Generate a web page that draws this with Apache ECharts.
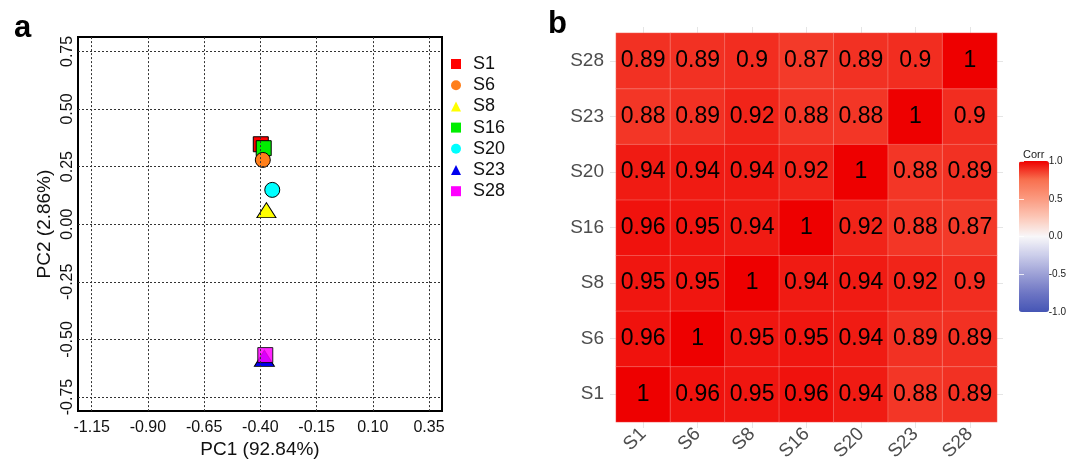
<!DOCTYPE html>
<html>
<head>
<meta charset="utf-8">
<script src="https://cdn.jsdelivr.net/npm/echarts@6/dist/echarts.min.js"></script>
<style>
html,body{margin:0;padding:0;background:#fff;}
#chart{width:1069px;height:464px;}
</style>
</head>
<body>
<div id="chart"></div>
<script>
// ---- PCA data (panel a) ----
const sampleNames = ['S1', 'S6', 'S8', 'S16', 'S20', 'S23', 'S28'];
const pc1Values = [-0.398, -0.389, -0.373, -0.385, -0.347, -0.382, -0.378];
const pc2Values = [0.347, 0.279, 0.061, 0.330, 0.149, -0.582, -0.568];
const pc1Ticks = [-1.15, -0.90, -0.65, -0.40, -0.15, 0.10, 0.35];
const pc2Ticks = [-0.75, -0.50, -0.25, 0.00, 0.25, 0.50, 0.75];

// ---- Correlation data (panel b) ----
const corrCategories = ['S1', 'S6', 'S8', 'S16', 'S20', 'S23', 'S28'];
const corrS1  = [1, 0.96, 0.95, 0.96, 0.94, 0.88, 0.89];
const corrS6  = [0.96, 1, 0.95, 0.95, 0.94, 0.89, 0.89];
const corrS8  = [0.95, 0.95, 1, 0.94, 0.94, 0.92, 0.9];
const corrS16 = [0.96, 0.95, 0.94, 1, 0.92, 0.88, 0.87];
const corrS20 = [0.94, 0.94, 0.94, 0.92, 1, 0.88, 0.89];
const corrS23 = [0.88, 0.89, 0.92, 0.88, 0.88, 1, 0.9];
const corrS28 = [0.89, 0.89, 0.9, 0.87, 0.89, 0.9, 1];

// ---- styles ----
const FONT = '"Liberation Sans", Arial, sans-serif';
const sampleColors = {S1:'#FF0000', S6:'#FF7F1A', S8:'#FFFF00', S16:'#00EE00', S20:'#00FFFF', S23:'#0000EE', S28:'#FF00FF'};
const sampleSymbols = {S1:'rect', S6:'circle', S8:'triangle', S16:'rect', S20:'circle', S23:'triangle', S28:'rect'};
const sampleSizes = {S1:[15,15], S6:[15,15], S8:[19,15], S16:[15,15], S20:[15,15], S23:[20,16], S28:[15,15]};
const sampleOpacity = {S28: 0.85};
const drawOrder = ['S1', 'S16', 'S6', 'S8', 'S20', 'S23', 'S28'];

const corrRows = [corrS1, corrS6, corrS8, corrS16, corrS20, corrS23, corrS28];
const heatData = [];
corrRows.forEach((row, yi) => row.forEach((v, xi) => heatData.push([xi, yi, v])));

const pcaSeries = drawOrder.map(name => {
  const i = sampleNames.indexOf(name);
  return {
    name: name,
    type: 'scatter',
    xAxisIndex: 0, yAxisIndex: 0,
    symbol: sampleSymbols[name],
    symbolSize: sampleSizes[name],
    data: [[pc1Values[i], pc2Values[i]]],
    itemStyle: {color: sampleColors[name], borderColor: '#000', borderWidth: 1, opacity: sampleOpacity[name] || 1},
    emphasis: {disabled: true},
    z: 2
  };
});

const gridLineSeries = {
  name: 'grid',
  type: 'scatter',
  xAxisIndex: 0, yAxisIndex: 0,
  data: [],
  symbolSize: 0,
  silent: true,
  z: 3,
  markLine: {
    silent: true,
    symbol: ['none', 'none'],
    label: {show: false},
    lineStyle: {color: '#333', type: [2, 2], width: 1},
    emphasis: {disabled: true},
    animation: false,
    data: pc1Ticks.map(v => ({xAxis: v})).concat(pc2Ticks.map(v => ({yAxis: v})))
  }
};

const option = {
  animation: false,
  textStyle: {fontFamily: FONT},
  title: [
    {text: 'a', left: 9, top: 8, textStyle: {fontSize: 31, fontWeight: 'bold', color: '#000', fontFamily: FONT}},
    {text: 'b', left: 543, top: 4, textStyle: {fontSize: 31, fontWeight: 'bold', color: '#000', fontFamily: FONT}},
    {text: 'Corr', left: 1018, top: 144, textStyle: {fontSize: 11, fontWeight: 'normal', color: '#1a1a1a', fontFamily: FONT}}
  ],
  grid: [
    {left: 78, top: 37, width: 364, height: 382, show: true, borderColor: '#000', borderWidth: 2, backgroundColor: 'transparent'},
    {left: 616, top: 33, width: 381, height: 389},
    {left: 1019, top: 161, width: 30, height: 151}
  ],
  xAxis: [
    {
      type: 'value', gridIndex: 0, min: -1.211, max: 0.408,
      name: 'PC1 (92.84%)', nameLocation: 'middle', nameGap: 24,
      nameTextStyle: {fontSize: 19, color: '#111', fontFamily: FONT},
      axisLine: {show: false}, splitLine: {show: false},
      axisTick: {show: false},
      axisLabel: {customValues: pc1Ticks, formatter: v => v.toFixed(2), fontSize: 16, color: '#111', margin: 8, fontFamily: FONT}
    },
    {
      type: 'category', gridIndex: 1, data: corrCategories, position: 'bottom',
      axisLine: {show: false}, splitLine: {show: false},
      axisTick: {show: true, alignWithLabel: true, length: 6, lineStyle: {color: '#E5E5E5'}},
      axisLabel: {rotate: 45, fontSize: 19, color: '#4D4D4D', margin: 9, fontFamily: FONT}
    },
    {
      type: 'category', gridIndex: 1, data: corrCategories, position: 'top',
      axisLine: {show: false}, splitLine: {show: false},
      axisTick: {show: true, alignWithLabel: true, length: 6, lineStyle: {color: '#E5E5E5'}},
      axisLabel: {show: false}
    },
    {
      type: 'value', gridIndex: 2, min: 0, max: 1, show: false
    }
  ],
  yAxis: [
    {
      type: 'value', gridIndex: 0, min: -0.811, max: 0.8125,
      name: 'PC2 (2.86%)', nameLocation: 'middle', nameGap: 24, nameRotate: 90,
      nameTextStyle: {fontSize: 19, color: '#111', fontFamily: FONT},
      axisLine: {show: false}, splitLine: {show: false},
      axisTick: {show: false},
      axisLabel: {customValues: pc2Ticks, formatter: v => v.toFixed(2), rotate: 90, fontSize: 16, color: '#111', margin: 2, fontFamily: FONT}
    },
    {
      type: 'category', gridIndex: 1, data: corrCategories, position: 'left',
      axisLine: {show: false}, splitLine: {show: false},
      axisTick: {show: true, alignWithLabel: true, length: 6, lineStyle: {color: '#E5E5E5'}},
      axisLabel: {fontSize: 19, color: '#4D4D4D', margin: 12, fontFamily: FONT}
    },
    {
      type: 'category', gridIndex: 1, data: corrCategories, position: 'right',
      axisLine: {show: false}, splitLine: {show: false},
      axisTick: {show: true, alignWithLabel: true, length: 6, lineStyle: {color: '#E5E5E5'}},
      axisLabel: {show: false}
    },
    {
      type: 'value', gridIndex: 2, min: -1, max: 1, interval: 0.5, position: 'right', z: 10,
      axisLine: {show: false}, splitLine: {show: false},
      axisTick: {show: true, inside: true, length: 5, lineStyle: {color: 'rgba(255,255,255,0.8)'}},
      axisLabel: {fontSize: 10, color: '#1a1a1a', margin: 4, formatter: v => v.toFixed(1), fontFamily: FONT}
    },
    {
      type: 'value', gridIndex: 2, min: -1, max: 1, interval: 0.5, position: 'left', z: 10,
      axisLine: {show: false}, splitLine: {show: false},
      axisTick: {show: true, inside: true, length: 5, lineStyle: {color: 'rgba(255,255,255,0.8)'}},
      axisLabel: {show: false}
    }
  ],
  legend: {
    data: sampleNames,
    orient: 'vertical',
    left: 446, top: 50,
    itemWidth: 10, itemHeight: 10, itemGap: 3.2,
    selectedMode: false,
    itemStyle: {borderWidth: 0, opacity: 1},
    textStyle: {fontSize: 18, lineHeight: 18, color: '#111', padding: [0, 0, 0, 7], fontFamily: FONT}
  },
  visualMap: {
    type: 'continuous',
    seriesIndex: 8,
    min: -1, max: 1,
    calculable: false,
    hoverLink: false,
    left: 1019, top: 161,
    itemWidth: 30, itemHeight: 151,
    padding: 0,
    text: null,
    showLabel: false,
    inRange: {color: ['#4555B5', '#6E76C4', '#9CA0D6', '#CBCDEA', '#F8F7F9', '#FCC8B8', '#FB9A80', '#F8704F', '#EE0000']}
  },
  series: pcaSeries.concat([gridLineSeries, {
    name: 'Corr',
    type: 'heatmap',
    xAxisIndex: 1, yAxisIndex: 1,
    data: heatData,
    label: {show: true, fontSize: 23, color: '#000', fontFamily: FONT, formatter: p => String(p.value[2])},
    itemStyle: {borderColor: 'rgba(255,255,255,0.22)', borderWidth: 1},
    emphasis: {disabled: true}
  }])
};

const chart = echarts.init(document.getElementById('chart'), null, {renderer: 'canvas'});
chart.setOption(option);
</script>
</body>
</html>
